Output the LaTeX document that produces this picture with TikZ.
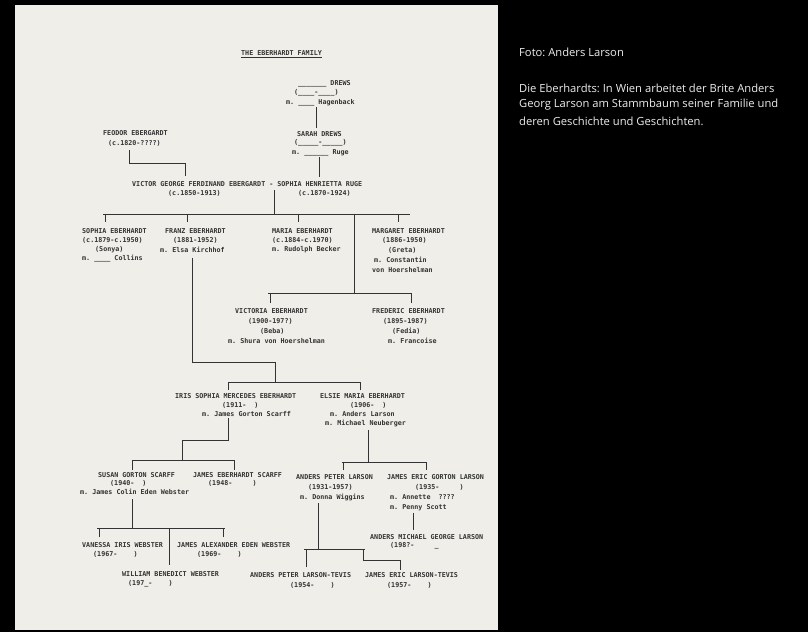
\documentclass[tikz,border=0pt]{standalone}
\usepackage{fontspec}
\newfontfamily\typew{DejaVu Sans Mono}
\newfontfamily\capf{Open Sans}
\definecolor{paper}{HTML}{EFEEE8}
\definecolor{ink}{HTML}{333333}
\definecolor{captxt}{HTML}{EDEDED}
\frenchspacing
\begin{document}
\begin{tikzpicture}[x=1pt,y=-1pt,
  tw/.style={anchor=west,inner sep=0pt,font=\frenchspacing\typew\bfseries\fontsize{6.7}{7}\selectfont,text=ink},
  conn/.style={draw=ink,line width=0.9pt},
  captionline/.style={anchor=west,inner sep=0pt,font=\frenchspacing\capf\fontsize{11.2}{13}\selectfont,text=captxt}]
\fill[black] (0,0) rectangle (808,632);
\useasboundingbox (0,0) rectangle (808,632);
\fill[paper] (15,5) rectangle (498,630);

% title
\node[tw] (title) at (241,54) {\underline{THE EBERHARDT FAMILY}};

% Drews
\node[tw] (dr1) at (298,84) {\_\_\_\_\_\_\_ DREWS};
\node[tw] (dr2) at (294,93) {(\_\_\_\_-\_\_\_\_)};
\node[tw] (dr3) at (286,103) {m. \_\_\_\_ Hagenback};
\node[tw] (sa1) at (297,134) {SARAH DREWS};
\node[tw] (sa2) at (294,143) {(\_\_\_\_\_-\_\_\_\_\_)};
\node[tw] (sa3) at (292,153) {m. \_\_\_\_\_\_ Ruge};

% Feodor
\node[tw] (fe1) at (103,133) {FEODOR EBERGARDT};
\node[tw] (fe2) at (108,143) {(c.1820-????)};

% couple
\node[tw] (vc1) at (132,184) {VICTOR GEORGE FERDINAND EBERGARDT - SOPHIA HENRIETTA RUGE};
\node[tw] (vc2) at (168,193) {(c.1850-1913)};
\node[tw] (vc3) at (298,193) {(c.1870-1924)};

% children
\node[tw] (so1) at (82,231) {SOPHIA EBERHARDT};
\node[tw] (so2) at (82,240) {(c.1879-c.1950)};
\node[tw] (so3) at (95,250) {(Sonya)};
\node[tw] (so4) at (82,259) {m. \_\_\_\_ Collins};

\node[tw] (fr1) at (165,231) {FRANZ EBERHARDT};
\node[tw] (fr2) at (173,240) {(1881-1952)};
\node[tw] (fr3) at (160,250) {m. Elsa Kirchhof};

\node[tw] (ma1) at (272,231) {MARIA EBERHARDT};
\node[tw] (ma2) at (272,240) {(c.1884-c.1970)};
\node[tw] (ma3) at (272,250) {m. Rudolph Becker};

\node[tw] (mg1) at (372,231) {MARGARET EBERHARDT};
\node[tw] (mg2) at (382,240) {(1886-1950)};
\node[tw] (mg3) at (388,250) {(Greta)};
\node[tw] (mg4) at (374,260) {m. Constantin};
\node[tw] (mg5) at (372,270) {von Hoershelman};

% Victoria, Frederic
\node[tw] (vi1) at (235,311) {VICTORIA EBERHARDT};
\node[tw] (vi2) at (248,321) {(1900-197?)};
\node[tw] (vi3) at (260,331) {(Beba)};
\node[tw] (vi4) at (228,341) {m. Shura von Hoershelman};

\node[tw] (fd1) at (372,311) {FREDERIC EBERHARDT};
\node[tw] (fd2) at (383,321) {(1895-1987)};
\node[tw] (fd3) at (392,331) {(Fedia)};
\node[tw] (fd4) at (388,341) {m. Francoise};

% Iris, Elsie
\node[tw] (ir1) at (175,396) {IRIS SOPHIA MERCEDES EBERHARDT};
\node[tw] (ir2) at (222,405) {(1911-\ \ )};
\node[tw] (ir3) at (202,414) {m. James Gorton Scarff};

\node[tw] (el1) at (320,396) {ELSIE MARIA EBERHARDT};
\node[tw] (el2) at (350,405) {(1906-\ \ )};
\node[tw] (el3) at (330,414) {m. Anders Larson};
\node[tw] (el4) at (325,423) {m. Michael Neuberger};

% Scarff children
\node[tw] (su1) at (98,475) {SUSAN GORTON SCARFF};
\node[tw] (su2) at (110,483) {(1940-\ \ )};
\node[tw] (su3) at (80,492) {m. James Colin Eden Webster};

\node[tw] (js1) at (193,475) {JAMES EBERHARDT SCARFF};
\node[tw] (js2) at (208,483) {(1948-\ \ \ \ \ )};

% Larson children
\node[tw] (ap1) at (296,477) {ANDERS PETER LARSON};
\node[tw] (ap2) at (308,487) {(1931-1957)};
\node[tw] (ap3) at (300,497) {m. Donna Wiggins};

\node[tw] (je1) at (387,477) {JAMES ERIC GORTON LARSON};
\node[tw] (je2) at (415,487) {(1935-\ \ \ \ \ )};
\node[tw] (je3) at (390,497) {m. Annette\ \ ????};
\node[tw] (je4) at (390,508) {m. Penny Scott};

\node[tw] (am1) at (370,537) {ANDERS MICHAEL GEORGE LARSON};
\node[tw] (am2) at (390,546) {(198?-\ \ \ \ \ \_};

% Webster children
\node[tw] (va1) at (82,545) {VANESSA IRIS WEBSTER};
\node[tw] (va2) at (93,554) {(1967-\ \ \ \ )};
\node[tw] (ja1) at (177,545) {JAMES ALEXANDER EDEN WEBSTER};
\node[tw] (ja2) at (197,554) {(1969-\ \ \ \ )};
\node[tw] (wi1) at (122,574) {WILLIAM BENEDICT WEBSTER};
\node[tw] (wi2) at (128,584) {(197\_-\ \ \ \ )};

% Larson-Tevis
\node[tw] (lt1) at (250,575) {ANDERS PETER LARSON-TEVIS};
\node[tw] (lt2) at (290,585) {(1954-\ \ \ \ )};
\node[tw] (lt3) at (365,575) {JAMES ERIC LARSON-TEVIS};
\node[tw] (lt4) at (387,585) {(1957-\ \ \ \ )};

% ---------- connectors ----------
% Hagenback -> Sarah
\coordinate (h1) at (316,107); \coordinate (h2) at (316,128);
\draw[conn] (h1) -- (h2);
% Feodor -> Victor
\coordinate (f1) at (129,150); \coordinate (f2) at (129,163);
\coordinate (f3) at (185,163); \coordinate (f4) at (185,176);
\draw[conn] (f1) -- (f2) -- (f3) -- (f4);
% Ruge -> Sophia
\coordinate (r1) at (319,157); \coordinate (r2) at (319,177);
\draw[conn] (r1) -- (r2);
% couple -> children
\coordinate (k1) at (274,190); \coordinate (k2) at (274,214);
\coordinate (kL) at (103,214); \coordinate (kR) at (410,214);
\draw[conn] (k1) -- (k2);
\draw[conn] (kL) -- (kR);
\coordinate (ksa) at (105,214); \coordinate (ksb) at (105,222); \draw[conn] (ksa) -- (ksb);
\coordinate (kfa) at (187,214); \coordinate (kfb) at (187,222); \draw[conn] (kfa) -- (kfb);
\coordinate (kma) at (298,214); \coordinate (kmb) at (298,222); \draw[conn] (kma) -- (kmb);
\coordinate (kga) at (398,214); \coordinate (kgb) at (398,222); \draw[conn] (kga) -- (kgb);
\coordinate (kva) at (354,214); \coordinate (kvb) at (354,293); \draw[conn] (kva) -- (kvb);
% Victoria / Frederic bar
\coordinate (vL) at (268,293); \coordinate (vR) at (412,293);
\draw[conn] (vL) -- (vR);
\coordinate (v1a) at (270,293); \coordinate (v1b) at (270,303); \draw[conn] (v1a) -- (v1b);
\coordinate (v2a) at (411,293); \coordinate (v2b) at (411,303); \draw[conn] (v2a) -- (v2b);
% Franz -> Iris / Elsie
\coordinate (z1) at (192,258); \coordinate (z2) at (192,362);
\coordinate (z3) at (275,362); \coordinate (z4) at (275,382);
\draw[conn] (z1) -- (z2) -- (z3) -- (z4);
\coordinate (zL) at (228,382); \coordinate (zR) at (360,382);
\draw[conn] (zL) -- (zR);
\coordinate (zi) at (228,390); \draw[conn] (zL) -- (zi);
\coordinate (ze) at (360,390); \draw[conn] (zR) -- (ze);
% Iris -> Scarff children
\coordinate (i1) at (228,418); \coordinate (i2) at (228,440);
\coordinate (i3) at (182,440); \coordinate (i4) at (182,460);
\draw[conn] (i1) -- (i2) -- (i3) -- (i4);
\coordinate (iL) at (132,460); \coordinate (iR) at (234,460);
\draw[conn] (iL) -- (iR);
\coordinate (is) at (132,470); \draw[conn] (iL) -- (is);
\coordinate (ij) at (234,470); \draw[conn] (iR) -- (ij);
% Susan -> Webster children
\coordinate (s1) at (132,499); \coordinate (s2) at (132,528);
\draw[conn] (s1) -- (s2);
\coordinate (sL) at (97,528); \coordinate (sR) at (225,528);
\draw[conn] (sL) -- (sR);
\coordinate (sva) at (99,528); \coordinate (svb) at (99,537); \draw[conn] (sva) -- (svb);
\coordinate (swa) at (169,528); \coordinate (swb) at (169,565); \draw[conn] (swa) -- (swb);
\coordinate (sja) at (223,528); \coordinate (sjb) at (223,537); \draw[conn] (sja) -- (sjb);
% Elsie -> Larson children
\coordinate (e1) at (368,430); \coordinate (e2) at (368,462);
\draw[conn] (e1) -- (e2);
\coordinate (eL) at (342,462); \coordinate (eR) at (427,462);
\draw[conn] (eL) -- (eR);
\coordinate (ea) at (343,470); \coordinate (eaa) at (343,462); \draw[conn] (eaa) -- (ea);
\coordinate (eb) at (426,470); \coordinate (ebb) at (426,462); \draw[conn] (ebb) -- (eb);
% Anders Peter -> Larson-Tevis
\coordinate (a1) at (318,503); \coordinate (a2) at (318,549);
\draw[conn] (a1) -- (a2);
\coordinate (aL) at (304,549); \coordinate (aR) at (365,549);
\draw[conn] (aL) -- (aR);
\coordinate (a3) at (306,549); \coordinate (a4) at (306,567); \draw[conn] (a3) -- (a4);
\coordinate (a5) at (363,549); \coordinate (a6) at (363,560);
\coordinate (a7) at (400,560); \coordinate (a8) at (400,570);
\draw[conn] (a5) -- (a6) -- (a7) -- (a8);
% James Eric -> Anders Michael
\coordinate (j1) at (413,513); \coordinate (j2) at (413,530);
\draw[conn] (j1) -- (j2);

% ---------- caption ----------
\node[captionline] (cp1) at (519,52) {Foto: Anders Larson};
\node[captionline] (cp2) at (519,88) {Die Eberhardts: In Wien arbeitet der Brite Anders};
\node[captionline] (cp3) at (519,104.5) {Georg Larson am Stammbaum seiner Familie und};
\node[captionline] (cp4) at (519,121) {deren Geschichte und Geschichten.};
\end{tikzpicture}
\end{document}
